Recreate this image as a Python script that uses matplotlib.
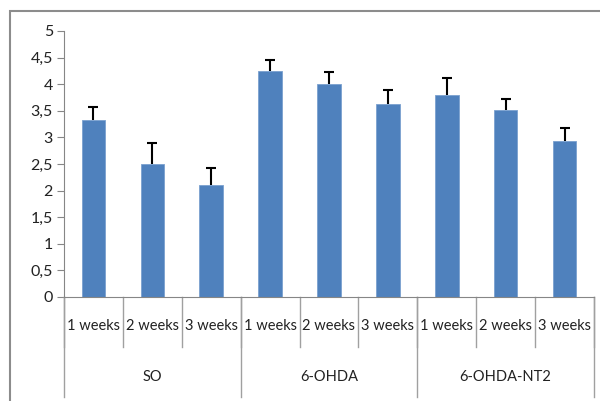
import matplotlib.pyplot as plt
import matplotlib.transforms as mtransforms
from matplotlib.patches import Rectangle
import numpy as np

groups = ['SO', '6-OHDA', '6-OHDA-NT2']
weeks = ['1 weeks', '2 weeks', '3 weeks']
means = [3.33, 2.50, 2.11, 4.25, 4.00, 3.62, 3.80, 3.51, 2.93]
errs = [0.25, 0.39, 0.32, 0.20, 0.23, 0.28, 0.32, 0.21, 0.24]
yticks = [0, 0.5, 1, 1.5, 2, 2.5, 3, 3.5, 4, 4.5, 5]

plt.rcParams['font.family'] = ['Lato', 'DejaVu Sans']
W, H = 600, 401
fig = plt.figure(figsize=(6, 4.01), dpi=100)

# outer chart frame (runs off the right/bottom edge)
fig.patches.append(Rectangle((10 / W, -0.1), 1.1, (H - 11) / H + 0.1,
                             transform=fig.transFigure, fill=False,
                             edgecolor='#8c8c8c', linewidth=1.5))

ax = fig.add_axes([64 / W, (H - 297) / H, 530 / W, 266 / H])
grey = '#868686'
x = np.arange(len(means)) + 0.5
m = np.array(means)
tops = m + np.array(errs)
ax.bar(x, m, width=0.4, color='#4F81BD', edgecolor='#7aa0cf', linewidth=0.6, zorder=2)
# upper-only error bars
ax.vlines(x, m, tops, color='black', lw=1.5, zorder=3)
ax.plot(x, tops, ls='none', marker='_', markersize=6.5, mew=1.5, color='black', zorder=3)

ax.set_xlim(0, len(means))
ax.set_ylim(0, 5)
ax.set_yticks(yticks)
ax.set_yticklabels([str(t).replace('.', ',').replace(',0', '') for t in yticks])
ax.tick_params(axis='y', length=5, color=grey, labelsize=11.5, pad=3, labelcolor='#222222')
ax.set_xticks([])
for s in ['top', 'right']:
    ax.spines[s].set_visible(False)
for s in ['left', 'bottom']:
    ax.spines[s].set_color(grey)

tr = mtransforms.blended_transform_factory(ax.transData, fig.transFigure)
y0 = (H - 297) / H
y1 = (H - 347) / H
y2 = (H - 397) / H
for i in range(len(means) + 1):
    ax.plot([i, i], [y0, y1], transform=tr, color='#a0a0a0', lw=1, clip_on=False)
for i in range(len(means)):
    ax.text(i + 0.5, (H - 326) / H, weeks[i % 3], transform=tr, ha='center',
            va='center', fontsize=10.5, color='#222222')
for g in range(len(groups) + 1):
    ax.plot([3 * g, 3 * g], [y0, y2], transform=tr, color='#a0a0a0', lw=1, clip_on=False)
for g, name in enumerate(groups):
    ax.text(3 * g + 1.5, (H - 377) / H, name, transform=tr, ha='center',
            va='center', fontsize=10.5, color='#222222')

fig.savefig('out.png', dpi=100)
